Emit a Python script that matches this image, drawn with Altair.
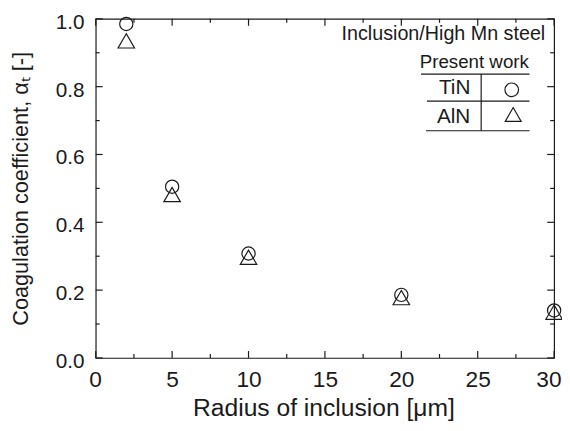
import altair as alt
import pandas as pd

# ---- data ----
radius = [2, 5, 10, 20, 30]
tin_coef = [0.985, 0.505, 0.308, 0.186, 0.140]
aln_coef = [0.935, 0.482, 0.297, 0.178, 0.135]

x_major = [0, 5, 10, 15, 20, 25, 30]
x_minor = [2.5, 7.5, 12.5, 17.5, 22.5, 27.5]
y_major = [0.0, 0.2, 0.4, 0.6, 0.8, 1.0]
y_minor = [0.1, 0.3, 0.5, 0.7, 0.9]

x_title = "Radius of inclusion [μm]"
y_title = "Coagulation coefficient, αₜ [-]"
legend_header = "Inclusion/High Mn steel"
legend_sub = "Present work"
legend_names = ["TiN", "AlN"]

# ---- layout / style ----
W, H = 465, 344
FONT = "Liberation Sans"
INK = "#1a1a1a"
SW = 1.2

tin_df = pd.DataFrame({"radius": radius, "coef": tin_coef})
aln_df = pd.DataFrame({"radius": radius, "coef": aln_coef})

xs = alt.Scale(domain=[0, 30], nice=False, zero=False)
ys = alt.Scale(domain=[0, 1], nice=False, zero=False)

x_axis = alt.Axis(
    values=x_major, title=x_title, ticks=False, tickSize=0, domain=False, grid=False,
    labelFont=FONT, labelFontSize=23, labelColor=INK, labelPadding=29,
    labelBaseline="alphabetic", labelFlush=True, labelFlushOffset=7,
    labelOverlap=False,
    titleFont=FONT, titleFontSize=25, titleFontWeight="normal", titleColor=INK,
    titleX=231, titleY=58, titleBaseline="alphabetic", titleAlign="center",
)
y_axis = alt.Axis(
    values=y_major, format=".1f", title=y_title, ticks=False, tickSize=0, domain=False, grid=False,
    labelFont=FONT, labelFontSize=21, labelColor=INK, labelPadding=12, labelOffset=3.5,
    labelAlign="right", labelBaseline="middle", labelFlush=False, labelOverlap=False,
    titleFont=FONT, titleFontSize=22, titleFontWeight="normal", titleColor=INK,
    titleAngle=270, titleX=-69.5, titleY=172, titleAlign="center", titleBaseline="alphabetic",
)


def X(field):
    return alt.X(field, scale=xs, axis=x_axis)


def Y(field):
    return alt.Y(field, scale=ys, axis=y_axis)


circles = alt.Chart(tin_df).mark_point(
    shape="circle", size=180, filled=False, color=INK, strokeWidth=SW, opacity=1
).encode(x=X("radius:Q"), y=Y("coef:Q"))
triangles = alt.Chart(aln_df).mark_point(
    shape="triangle-up", size=280, filled=False, color=INK, strokeWidth=SW, opacity=1
).encode(x=X("radius:Q"), y=Y("coef:Q"))


def xticks(vals, length, top):
    y0, y1 = (0, length) if top else (H, H - length)
    return alt.Chart(pd.DataFrame({"radius": vals})).mark_rule(color=INK, strokeWidth=SW).encode(
        x=X("radius:Q"), y=alt.value(y0), y2=alt.value(y1)
    )


def yticks(vals, length, right):
    x0, x1 = (W, W - length) if right else (0, length)
    return alt.Chart(pd.DataFrame({"coef": vals})).mark_rule(color=INK, strokeWidth=SW).encode(
        y=Y("coef:Q"), x=alt.value(x0), x2=alt.value(x1)
    )


ticks = [
    xticks(x_major, 7, False), xticks(x_minor, 4, False),
    xticks(x_major, 7, True), xticks(x_minor, 4, True),
    yticks(y_major, 7, False), yticks(y_minor, 4, False),
    yticks(y_major, 7, True), yticks(y_minor, 4, True),
]


def label(text, x, y, size, align):
    return alt.Chart(pd.DataFrame({"t": [text]})).mark_text(
        font=FONT, fontSize=size, color=INK, align=align, baseline="alphabetic"
    ).encode(text="t:N", x=alt.value(x), y=alt.value(y))


def seg(x1, x2, y1, y2):
    return alt.Chart(pd.DataFrame({"k": [0]})).mark_rule(color=INK, strokeWidth=SW).encode(
        x=alt.value(x1), x2=alt.value(x2), y=alt.value(y1), y2=alt.value(y2)
    )


def sym(shape, size, x, y):
    return alt.Chart(pd.DataFrame({"k": [0]})).mark_point(
        shape=shape, size=size, filled=False, color=INK, strokeWidth=SW, opacity=1
    ).encode(x=alt.value(x), y=alt.value(y))


legend = [
    label(legend_header, 456, 21, 20, "right"),
    label(legend_sub, 384, 50, 19, "center"),
    seg(330, 440, 56, 56),
    label(legend_names[0], 380, 76, 21, "right"),
    sym("circle", 190, 422, 72),
    seg(336, 440, 83.5, 83.5),
    label(legend_names[1], 380, 105.5, 21, "right"),
    sym("triangle-up", 260, 423.5, 97),
    seg(335, 440, 113.5, 113.5),
    seg(391, 391, 56, 113.5),
]

chart = alt.layer(circles, triangles, *ticks, *legend).properties(
    width=W,
    height=H,
    autosize=alt.AutoSizeParams(type="none"),
    padding={"left": 89, "top": 8, "right": 8, "bottom": 63},
    background="white",
).configure_view(stroke=INK, strokeWidth=SW)

chart.save("out.html", embed_options={"renderer": "svg", "actions": False})
